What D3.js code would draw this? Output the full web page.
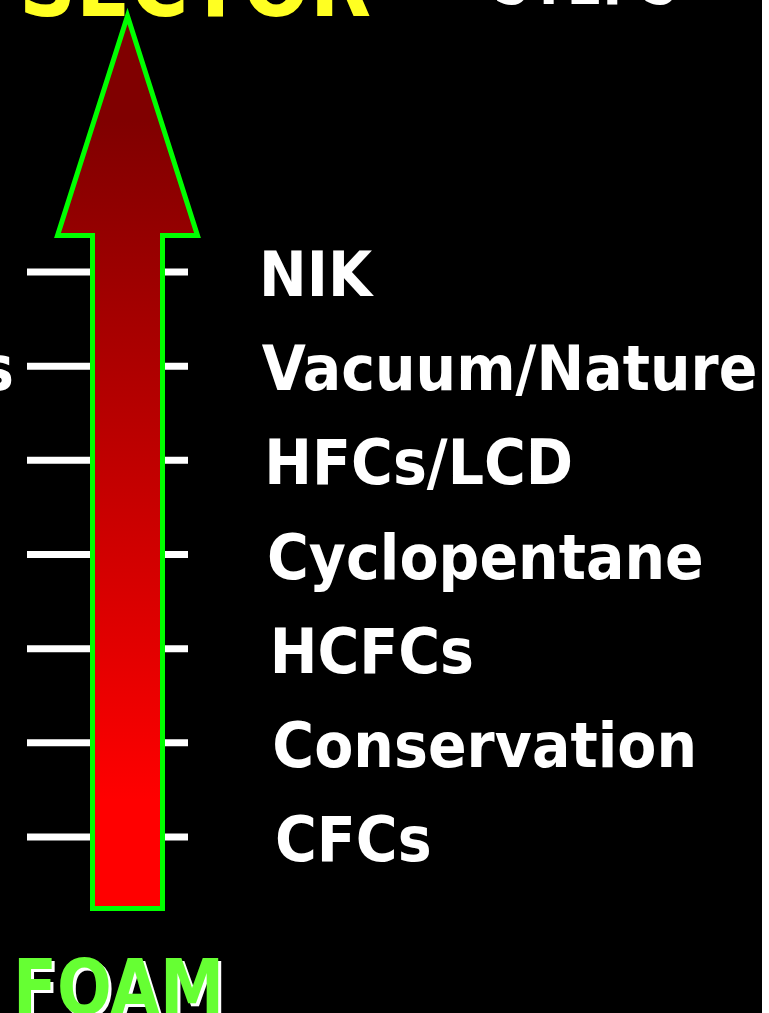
<!DOCTYPE html>
<html>
<head>
<meta charset="utf-8">
<script src="https://cdn.jsdelivr.net/npm/d3@7"></script>
<style>
  html, body { margin: 0; padding: 0; background: #fff; }
  svg { display: block; }
</style>
</head>
<body>
<svg id="drawing_region" width="762" height="1013"></svg>
<script>
// stages of the foam sector, bottom to top of the arrow
const stages = ["CFCs", "Conservation", "HCFCs", "Cyclopentane", "HFCs/LCD", "Vacuum/Nature", "NIK"];
const leftLabels = [{ stage: "Vacuum/Nature", text: "Alternatives" }];
const title = "SECTOR";
const topRightText = "STEPS";
const footer = "FOAM";

const svg = d3.select("#drawing_region");
const width = +svg.attr("width");
const height = +svg.attr("height");

svg.append("rect").attr("width", width).attr("height", height).attr("fill", "#000");

const font = "'DejaVu Sans', Verdana, sans-serif";
const squeeze = 0.92;
const labelSize = 62;

// tick positions along the arrow
const y = d3.scalePoint().domain(stages).range([837, 272]);

// arrow geometry
const shaftL = 92.5, shaftR = 162.5, headL = 57.5, headR = 197.5;
const tipX = 127.5, tipY = 16, headY = 235.5, bottomY = 908.5;

const defs = svg.append("defs");
const grad = defs.append("linearGradient")
  .attr("id", "arrowFill")
  .attr("gradientUnits", "userSpaceOnUse")
  .attr("x1", 0).attr("x2", 0).attr("y1", 120).attr("y2", 800);
grad.append("stop").attr("offset", 0).attr("stop-color", "#800000");
grad.append("stop").attr("offset", 1).attr("stop-color", "#ff0000");

// tick bars behind the arrow
svg.append("g").selectAll("line")
  .data(stages)
  .join("line")
  .attr("x1", 27).attr("x2", 188)
  .attr("y1", d => y(d)).attr("y2", d => y(d))
  .attr("stroke", "#fff")
  .attr("stroke-width", 7);

const p = d3.path();
p.moveTo(tipX, tipY);
p.lineTo(headR, headY);
p.lineTo(shaftR, headY);
p.lineTo(shaftR, bottomY);
p.lineTo(shaftL, bottomY);
p.lineTo(shaftL, headY);
p.lineTo(headL, headY);
p.closePath();

svg.append("path")
  .attr("d", p.toString())
  .attr("fill", "url(#arrowFill)")
  .attr("stroke", "#00ff00")
  .attr("stroke-width", 5)
  .attr("stroke-linejoin", "miter");

// stage labels, drifting slightly right toward the bottom
const labelX = d3.scaleLinear().domain([272, 837]).range([259, 275]);

svg.append("g").selectAll("text")
  .data(stages)
  .join("text")
  .attr("transform", d => `translate(${labelX(y(d))},${y(d) + 24}) scale(${squeeze},1)`)
  .attr("fill", "#fff")
  .attr("font-family", font)
  .attr("font-weight", "bold")
  .attr("font-size", labelSize)
  .text(d => d);

svg.append("g").selectAll("text")
  .data(leftLabels)
  .join("text")
  .attr("transform", d => `translate(14,${y(d.stage) + 24}) scale(${squeeze},1)`)
  .attr("text-anchor", "end")
  .attr("fill", "#fff")
  .attr("font-family", font)
  .attr("font-weight", "bold")
  .attr("font-size", labelSize)
  .text(d => d.text);

// title, clipped by the top edge
svg.append("text")
  .attr("x", 19).attr("y", 16)
  .attr("textLength", 352)
  .attr("lengthAdjust", "spacingAndGlyphs")
  .attr("fill", "#ffff22")
  .attr("font-family", font)
  .attr("font-weight", "bold")
  .attr("font-size", 90)
  .text(title);

svg.append("text")
  .attr("x", 493).attr("y", 4)
  .attr("textLength", 186)
  .attr("lengthAdjust", "spacingAndGlyphs")
  .attr("fill", "#fff")
  .attr("font-family", font)
  .attr("font-weight", "bold")
  .attr("font-size", 80)
  .text(topRightText);

// footer with white drop shadow
[{ dx: 3, dy: 3, c: "#fff" }, { dx: 0, dy: 0, c: "#66ff33" }].forEach(s => {
  svg.append("text")
    .attr("x", 13 + s.dx).attr("y", 1014 + s.dy)
    .attr("textLength", 211)
    .attr("lengthAdjust", "spacingAndGlyphs")
    .attr("fill", s.c)
    .attr("font-family", font)
    .attr("font-weight", "bold")
    .attr("font-size", 76)
    .text(footer);
});
</script>
</body>
</html>
